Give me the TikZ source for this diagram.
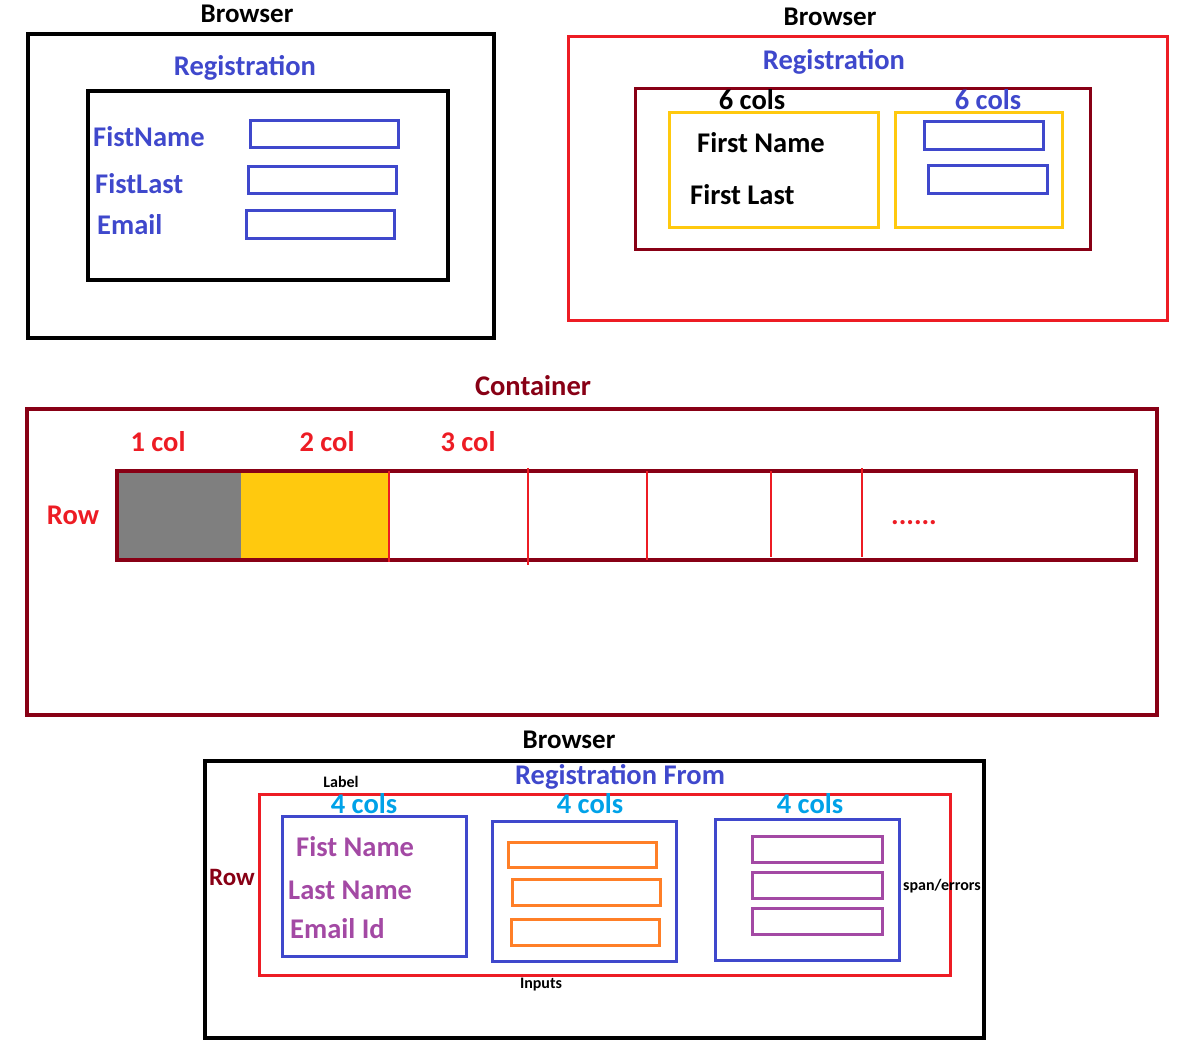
\documentclass[tikz,border=0pt]{standalone}
\usepackage{fontspec}
\setmainfont{Carlito}
\definecolor{regblue}{RGB}{63,72,204}
\definecolor{brightred}{RGB}{237,28,36}
\definecolor{wine}{RGB}{136,0,21}
\definecolor{gold}{RGB}{255,201,14}
\definecolor{skyblue}{RGB}{0,162,232}
\definecolor{violet}{RGB}{163,73,164}
\definecolor{tangerine}{RGB}{255,127,39}
\definecolor{midgray}{RGB}{127,127,127}

\begin{document}
\begin{tikzpicture}[x=1pt,y=-1pt]
\tikzset{big/.style={font=\fontsize{28.5}{30}\selectfont\bfseries,inner sep=0pt},
  head/.style={font=\fontsize{27}{29}\selectfont\bfseries,inner sep=0pt},
  tiny/.style={font=\fontsize{16}{18}\selectfont\bfseries,inner sep=0pt},
  frame/.style={draw,line width=3.2pt}, field/.style={draw,line width=3pt}};
\useasboundingbox (0,0) rectangle (1182,1056);

% first browser
\node[head] (Br1) at (247,14) {Browser};
\draw[frame] (28,34) rectangle (494,338);
\node[big,regblue] (Reg1) at (245,68) {Registration};
\draw[frame] (88,91) rectangle (448,280);
\node[big,regblue,anchor=west] (FN1) at (93,137) {FistName};
\node[big,regblue,anchor=west] (FL1) at (95,184) {FistLast};
\node[big,regblue,anchor=west] (EM1) at (97,225) {Email};
\draw[field,regblue] (250,121) rectangle (398,148);
\draw[field,regblue] (248,167) rectangle (396,194);
\draw[field,regblue] (246,211) rectangle (394,239);

% second browser
\node[head] (Br2) at (830,17) {Browser};
\draw[field,brightred] (568,37) rectangle (1167,320);
\node[big,regblue] (Reg2) at (834,62) {Registration};
\draw[field,wine] (635,89) rectangle (1090,250);
\node[big] (C6a) at (752,100) {6 cols};
\node[big,regblue] (C6b) at (988,100) {6 cols};
\draw[field,gold] (669,113) rectangle (878,228);
\draw[field,gold] (895,113) rectangle (1062,228);
\node[big,anchor=west] (FN2) at (697,143) {First Name};
\node[big,anchor=west] (FL2) at (690,195) {First Last};
\draw[field,regblue] (924,122) rectangle (1043,150);
\draw[field,regblue] (928,166) rectangle (1047,194);

% container
\node[big,wine] (Cont) at (533,386) {Container};
\draw[frame,wine] (27,409) rectangle (1157,715);
\node[big,brightred] (Col1) at (158,442) {1 col};
\node[big,brightred] (Col2) at (327,442) {2 col};
\node[big,brightred] (Col3) at (468,442) {3 col};
\node[big,brightred] (Row1) at (73,515) {Row};
\fill[midgray] (117,471) rectangle (241,560);
\fill[gold] (241,471) rectangle (389,560);
\draw[frame,wine] (117,471) rectangle (1136,560);
\foreach \x/\a/\b in {389/471/562,528/468/565,647/471/560,771/471/557,862/468/557}
  \draw[brightred,line width=2.2pt] (\x,\a) -- (\x,\b);
\node[big,brightred,anchor=base] (Dots) at (914,524) {......};

% third browser
\node[head] (Br3) at (569,740) {Browser};
\draw[frame] (205,761) rectangle (984,1038);
\node[big,regblue] (Reg3) at (620,777) {Registration From};
\node[tiny] (Lbl) at (341,782) {Label};
\draw[field,brightred] (259,794) rectangle (950,975);
\node[wine,font=\fontsize{25}{27}\selectfont\bfseries,inner sep=0pt] (Row2) at (232,877) {Row};
\foreach \x/\n in {364/a,590/b,810/c}
  \node[big,skyblue] (Four\n) at (\x,804) {4 cols};
\draw[field,regblue] (282,816) rectangle (466,956);
\draw[field,regblue] (492,821) rectangle (676,961);
\draw[field,regblue] (715,819) rectangle (899,960);
\node[big,violet,anchor=west] (FN3) at (296,847) {Fist Name};
\node[big,violet,anchor=west] (LN3) at (288,890) {Last Name};
\node[big,violet,anchor=west] (EM3) at (290,929) {Email Id};
\draw[field,tangerine] (508,842) rectangle (656,867);
\draw[field,tangerine] (512,879) rectangle (660,905);
\draw[field,tangerine] (511,919) rectangle (659,945);
\foreach \y in {836,872,908}
  \draw[field,violet] (752,\y) rectangle (882,\y+26);
\node[tiny] (Span) at (942,886) {span/errors};
\node[tiny] (Inp) at (541,985) {Inputs};
\end{tikzpicture}
\end{document}
